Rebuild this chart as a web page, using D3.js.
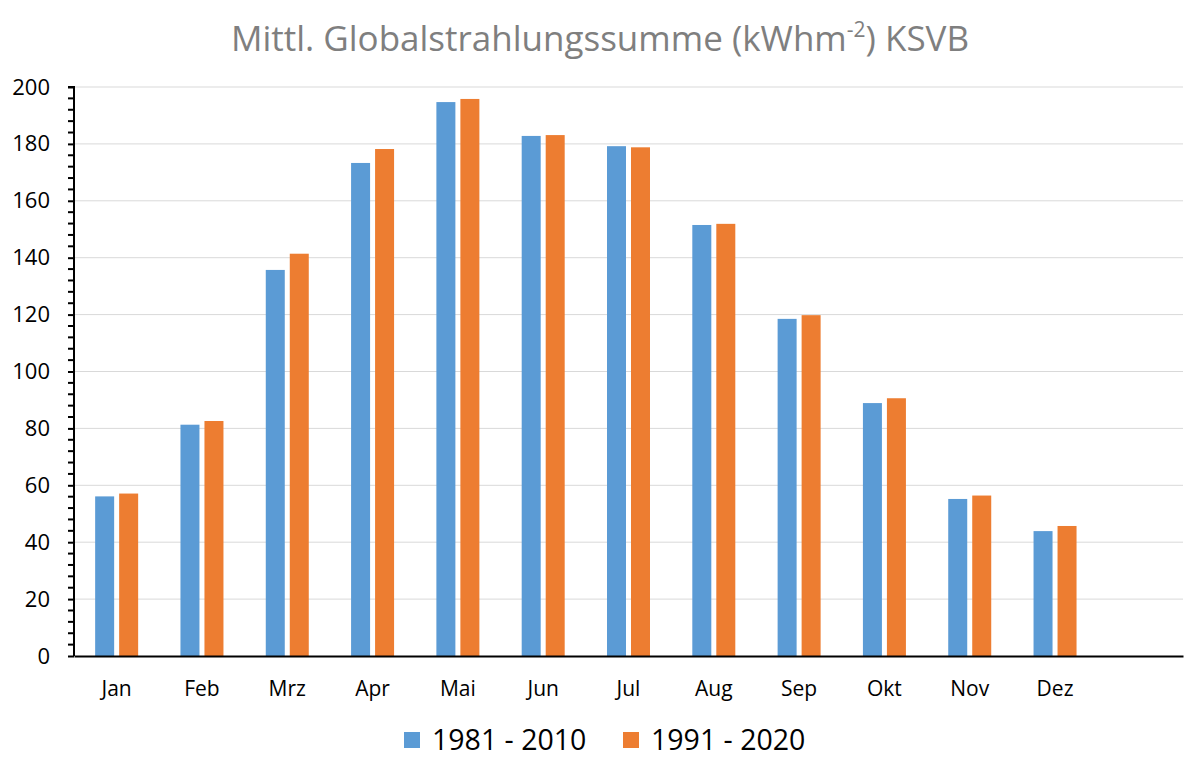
<!DOCTYPE html>
<html><head><meta charset="utf-8">
<script src="https://cdn.jsdelivr.net/npm/d3@7"></script>
<style>body{margin:0;background:#fff}svg{display:block}</style>
</head><body>
<script>
const categories = ["Jan","Feb","Mrz","Apr","Mai","Jun","Jul","Aug","Sep","Okt","Nov","Dez",""];
const series1Name = "1981 - 2010";
const series2Name = "1991 - 2020";
const series1 = [56.1, 81.3, 135.7, 173.3, 194.7, 182.8, 179.2, 151.5, 118.5, 88.9, 55.2, 43.9];
const series2 = [57.1, 82.6, 141.4, 178.2, 195.8, 183.1, 178.8, 151.9, 119.8, 90.6, 56.4, 45.7];
const yTicks = [0,20,40,60,80,100,120,140,160,180,200];

const W=1200,H=775;
const mLeft=74,mRight=1183,mTop=87,mBottom=656;
const svg=d3.select("body").append("svg").attr("width",W).attr("height",H);
const font="'Open Sans', 'Liberation Sans', sans-serif";

const x=d3.scaleBand().domain(categories.map((c,i)=>i)).range([mLeft,mRight]).paddingInner(0).paddingOuter(0);
const y=d3.scaleLinear().domain([0,200]).range([mBottom,mTop]);

// gridlines
svg.append("g").selectAll("line").data(yTicks.slice(1)).join("line")
  .attr("x1",mLeft).attr("x2",mRight).attr("y1",d=>y(d)).attr("y2",d=>y(d))
  .attr("stroke","#d9d9d9").attr("stroke-width",1);

// bars
const bw=19, gap=5;
const data=categories.slice(0,12).map((c,i)=>({i,a:series1[i],b:series2[i]}));
const g=svg.append("g");
g.selectAll(".b1").data(data).join("rect")
  .attr("x",d=>x(d.i)+x.bandwidth()/2-gap/2-bw).attr("width",bw)
  .attr("y",d=>y(d.a)).attr("height",d=>y(0)-y(d.a)).attr("fill","#5B9BD5");
g.selectAll(".b2").data(data).join("rect")
  .attr("x",d=>x(d.i)+x.bandwidth()/2+gap/2).attr("width",bw)
  .attr("y",d=>y(d.b)).attr("height",d=>y(0)-y(d.b)).attr("fill","#ED7D31");

// y axis
const yAxis=d3.axisLeft(y).tickValues(yTicks).tickSize(6).tickPadding(18).tickFormat(d3.format("d"));
const ya=svg.append("g").attr("transform",`translate(${mLeft},0)`).call(yAxis);
ya.select(".domain").attr("stroke","#000").attr("stroke-width",2).attr("d",`M-6,${mTop}H0V${mBottom}`);
ya.selectAll(".tick line").attr("stroke","#000").attr("stroke-width",2);
ya.selectAll("text").attr("font-family",font).attr("font-size",22).attr("fill","#000");
// minor ticks
const minor=d3.range(0,201,4).filter(v=>v%20!==0);
ya.append("g").selectAll("line").data(minor).join("line")
  .attr("x1",-6).attr("x2",0).attr("y1",d=>y(d)).attr("y2",d=>y(d))
  .attr("stroke","#000").attr("stroke-width",2);

// x axis
const xAxis=d3.axisBottom(x).tickFormat(i=>categories[i]).tickSize(0).tickPadding(25);
const xa=svg.append("g").attr("transform",`translate(0,${mBottom})`).call(xAxis);
xa.select(".domain").attr("stroke","#000").attr("stroke-width",2);
xa.selectAll("text").attr("font-family",font).attr("font-size",21).attr("fill","#000");

// title
const t=svg.append("text").attr("x",600).attr("y",51).attr("text-anchor","middle")
  .attr("font-family",font).attr("font-size",35).attr("fill","#7f7f7f");
t.append("tspan").text("Mittl. Globalstrahlungssumme (kWhm");
t.append("tspan").attr("font-size",21).attr("dy",-14).text("-2");
t.append("tspan").attr("dy",14).text(") KSVB");

// legend
const leg=svg.append("g");
const items=[{n:series1Name,c:"#5B9BD5",x:404},{n:series2Name,c:"#ED7D31",x:623}];
items.forEach(it=>{
  leg.append("rect").attr("x",it.x).attr("y",732).attr("width",16).attr("height",16).attr("fill",it.c);
  leg.append("text").attr("x",it.x+28).attr("y",750).attr("font-family",font).attr("font-size",28.5).attr("fill","#000").text(it.n);
});
</script>
</body></html>
